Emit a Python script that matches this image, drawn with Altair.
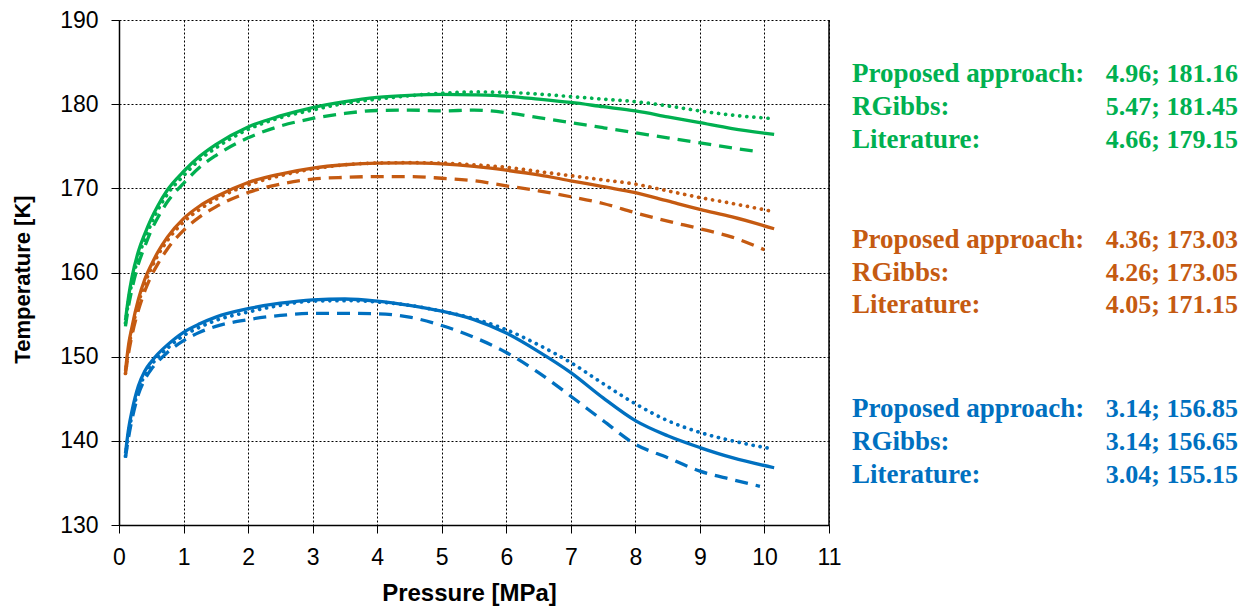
import altair as alt
import pandas as pd

# ---------------- data ----------------
P_grid = [0.1, 0.15, 0.2, 0.3, 0.4, 0.5, 0.6, 0.75, 1.0, 1.25, 1.5, 2, 2.5, 3,
          3.5, 4, 4.5, 5, 5.5, 6, 6.5, 7, 7.5, 8, 8.5, 9, 9.5]

# end pressures of each curve
green_end = {"solid": 10.15, "dot": 10.1, "dash": 9.9}
orange_end = {"solid": 10.15, "dot": 10.1, "dash": 10.0}
blue_end = {"solid": 10.15, "dot": 10.08, "dash": 9.93}

green_solid = [154.3, 157.2, 159.4, 162.5, 164.6, 166.4, 167.9, 169.8, 172.0, 173.8, 175.2, 177.3, 178.6, 179.6,
               180.3, 180.8, 181.05, 181.16, 181.1, 180.95, 180.6, 180.2, 179.7, 179.2, 178.5, 177.8, 177.1, 176.4]
green_dot = [154.0, 156.7, 158.8, 161.8, 164.0, 165.8, 167.4, 169.3, 171.5, 173.4, 174.8, 177.0, 178.4, 179.3,
             180.1, 180.6, 181.0, 181.3, 181.45, 181.4, 181.2, 180.9, 180.6, 180.3, 179.8, 179.2, 178.7, 178.3]
green_dash = [153.6, 156.1, 158.0, 161.0, 163.1, 165.0, 166.5, 168.4, 170.6, 172.5, 173.9, 176.0, 177.4, 178.3,
              178.9, 179.25, 179.3, 179.2, 179.3, 179.0, 178.4, 177.8, 177.2, 176.6, 176.0, 175.4, 174.8, 174.35]

orange_solid = [148.3, 151.5, 153.5, 156.8, 159.2, 160.9, 162.4, 164.2, 166.4, 167.9, 169.0, 170.7, 171.7, 172.4,
                172.8, 173.0, 173.03, 172.9, 172.6, 172.15, 171.6, 170.9, 170.2, 169.5, 168.5, 167.5, 166.6, 165.2]
orange_dot = [148.0, 151.0, 153.1, 156.3, 158.7, 160.5, 162.0, 163.8, 166.0, 167.5, 168.7, 170.4, 171.5, 172.3,
              172.8, 173.0, 173.05, 173.0, 172.8, 172.5, 172.0, 171.5, 171.0, 170.5, 169.7, 168.9, 168.2, 167.3]
orange_dash = [148.0, 150.5, 152.5, 155.5, 157.8, 159.6, 161.0, 162.8, 165.0, 166.6, 167.8, 169.5, 170.5, 171.1,
               171.3, 171.4, 171.4, 171.2, 170.9, 170.3, 169.7, 169.0, 168.2, 167.1, 166.1, 165.2, 164.2, 162.7]

blue_solid = [138.5, 141.5, 143.5, 146.5, 148.3, 149.4, 150.3, 151.4, 152.9, 153.9, 154.7, 155.7, 156.35, 156.75,
              156.85, 156.6, 156.1, 155.4, 154.4, 152.8, 150.6, 148.1, 145.1, 142.4, 140.6, 139.2, 138.0, 136.8]
blue_dot = [138.2, 141.0, 143.0, 146.0, 147.8, 149.0, 149.9, 151.0, 152.5, 153.5, 154.3, 155.3, 156.1, 156.6,
            156.65, 156.5, 156.1, 155.4, 154.5, 153.2, 151.4, 149.3, 146.8, 144.4, 142.4, 141.0, 140.0, 139.1]
blue_dash = [138.0, 140.5, 142.5, 145.5, 147.3, 148.5, 149.4, 150.5, 151.9, 152.9, 153.6, 154.4, 154.9, 155.15,
             155.15, 155.1, 154.7, 153.7, 152.3, 150.5, 148.1, 145.3, 142.4, 139.6, 138.0, 136.4, 135.4, 134.6]

groups = ["green", "orange", "blue"]
colors = ["#00B050", "#C55A11", "#0070C0"]

curves = {
    "green": ({"solid": green_solid, "dot": green_dot, "dash": green_dash}, green_end),
    "orange": ({"solid": orange_solid, "dot": orange_dot, "dash": orange_dash}, orange_end),
    "blue": ({"solid": blue_solid, "dot": blue_dot, "dash": blue_dash}, blue_end),
}

ann_labels = ["Proposed approach:", "RGibbs:", "Literature:"]
ann_values = {
    "green": ["4.96; 181.16", "5.47; 181.45", "4.66; 179.15"],
    "orange": ["4.36; 173.03", "4.26; 173.05", "4.05; 171.15"],
    "blue": ["3.14; 156.85", "3.14; 156.65", "3.04; 155.15"],
}

rows = []
for g in groups:
    series, ends = curves[g]
    for method, temps in series.items():
        ps = P_grid + [ends[method]]
        for i, (p, t) in enumerate(zip(ps, temps)):
            rows.append({"group": g, "method": method, "P": p, "T": t, "order": i})
df = pd.DataFrame(rows)

# ---------------- chart ----------------
W, H = 710, 505
color_scale = alt.Scale(domain=groups, range=colors)
x_enc = alt.X("P:Q", scale=alt.Scale(domain=[0, 11], nice=False),
              axis=alt.Axis(values=list(range(0, 12)), title="Pressure [MPa]",
                            titleX=350, titleY=75, titleBaseline="alphabetic",
                            titleFontSize=24))
y_enc = alt.Y("T:Q", scale=alt.Scale(domain=[130, 190], nice=False, zero=False),
              axis=alt.Axis(values=list(range(130, 191, 10)), title="Temperature [K]",
                            titleX=-97, titleY=259, titleBaseline="middle",
                            titleFontSize=22))


def line_layer(method, **mark_kw):
    kw = {"interpolate": "monotone", "strokeWidth": 3.3}
    kw.update(mark_kw)
    return alt.Chart(df[df["method"] == method]).mark_line(**kw).encode(
        x=x_enc, y=y_enc,
        color=alt.Color("group:N", scale=color_scale, legend=None),
        detail="group:N",
        order="order:Q",
    )


solid = line_layer("solid")
dashed = line_layer("dash", strokeDash=[13, 8], strokeCap="butt")
dotted = line_layer("dot", strokeDash=[0.1, 7], strokeCap="round", strokeWidth=3.7)

border = alt.Chart(alt.Data(values=[{}])).mark_rule(color="black", strokeWidth=1.5).encode(
    x=alt.value(W), y=alt.value(0), y2=alt.value(H)
)

label_x = 733
value_x = 1119
baselines = {"green": [62, 95, 128], "orange": [228, 261, 293], "blue": [397, 430, 463]}

texts = []
for g, c in zip(groups, colors):
    for lab, val, yb in zip(ann_labels, ann_values[g], baselines[g]):
        texts.append(
            alt.Chart(alt.Data(values=[{"t": lab}])).mark_text(
                font="Liberation Serif", fontWeight="bold", fontSize=27, color=c,
                align="left", baseline="alphabetic"
            ).encode(x=alt.value(label_x), y=alt.value(yb), text="t:N")
        )
        texts.append(
            alt.Chart(alt.Data(values=[{"t": val}])).mark_text(
                font="Liberation Serif", fontWeight="bold", fontSize=26, color=c,
                align="right", baseline="alphabetic"
            ).encode(x=alt.value(value_x), y=alt.value(yb), text="t:N")
        )

chart = alt.layer(dashed, dotted, solid, border, *texts).properties(
    width=W, height=H,
    autosize=alt.AutoSizeParams(type="none"),
    padding={"left": 111, "top": 12, "right": 421, "bottom": 82},
).configure_view(stroke=None).configure_axis(
    grid=True, gridColor="black", gridDash=[2, 2], gridWidth=1, gridOpacity=1,
    domainColor="black", domainWidth=1.5, tickColor="black", tickSize=8, tickWidth=1,
    labelFont="Liberation Sans", labelFontSize=23, labelColor="black", labelPadding=13,
    labelFlush=False,
    titleFont="Liberation Sans", titleFontWeight="bold", titleColor="black",
)

chart.save("out.html", embed_options={"renderer": "svg", "actions": False})
